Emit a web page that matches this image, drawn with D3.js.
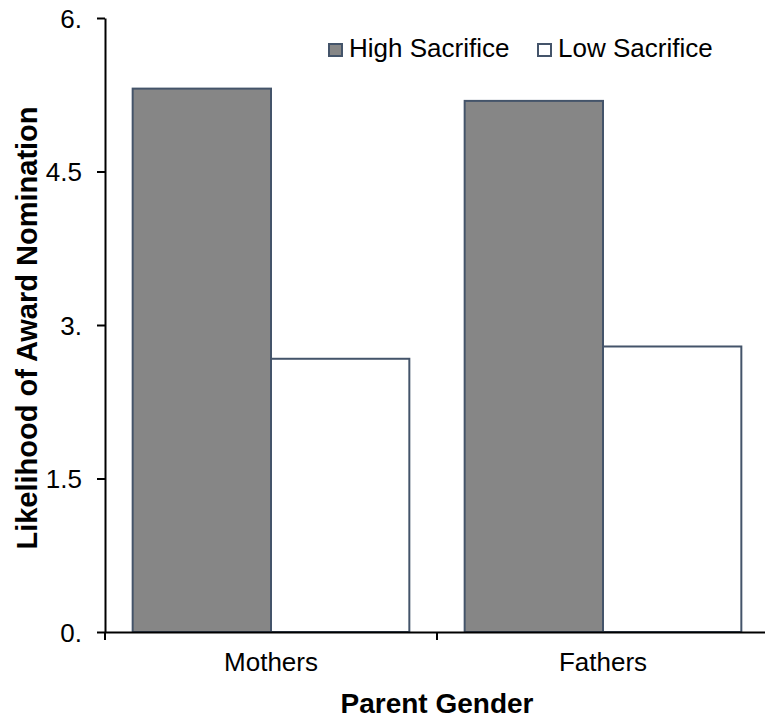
<!DOCTYPE html>
<html><head><meta charset="utf-8">
<script src="https://cdn.jsdelivr.net/npm/d3@7"></script>
<style>body{margin:0;background:#fff}svg{display:block;font-family:"Liberation Sans",Arial,sans-serif}</style>
</head><body><svg id="c" width="765" height="719"></svg>
<script>
const categories = ["Mothers", "Fathers"];
const seriesNames = ["High Sacrifice", "Low Sacrifice"];
const highSacrifice = [5.31, 5.19];
const lowSacrifice = [2.67, 2.79];
const yTicks = [0, 1.5, 3, 4.5, 6];
const yTickLabels = ["0.", "1.5", "3.", "4.5", "6."];
const colors = ["#868686", "#ffffff"];

const FONT = "Liberation Sans, Arial, sans-serif";
const svg = d3.select("#c");
const L = 105, R = 769, T = 18, B = 632;
const y = d3.scaleLinear().domain([0, 6]).range([B, T]);
const x = d3.scaleBand().domain(categories).range([L, R]).paddingInner(0).paddingOuter(0);
const xs = d3.scaleBand().domain(seriesNames).range([0, x.bandwidth()]).paddingInner(0).paddingOuter(0.2);

const data = categories.map((c, i) => ({cat: c, vals: [highSacrifice[i], lowSacrifice[i]]}));
const g = svg.append("g");
data.forEach(d => {
  d.vals.forEach((v, j) => {
    g.append("rect")
      .attr("x", x(d.cat) + xs(seriesNames[j]))
      .attr("y", y(v))
      .attr("width", xs.bandwidth())
      .attr("height", y(0) - y(v))
      .attr("fill", colors[j])
      .attr("stroke", "#44546a")
      .attr("stroke-width", 2);
  });
});

// y axis
const ya = svg.append("g").attr("transform", `translate(${L},0)`)
  .call(d3.axisLeft(y).tickValues(yTicks).tickFormat((d, i) => yTickLabels[i]).tickSize(8).tickSizeOuter(0));
ya.attr("font-size", null).attr("font-family", null);
ya.select(".domain").attr("stroke", "#000").attr("stroke-width", 2);
ya.selectAll(".tick line").attr("stroke", "#000").attr("stroke-width", 2);
ya.selectAll(".tick text").style("font-size", "26px").attr("fill", "#000").attr("x", -23).attr("dy", "0.35em").style("font-family", FONT);

// x axis
const xa = svg.append("g").attr("transform", `translate(0,${B})`)
  .call(d3.axisBottom(x).tickSize(0).tickSizeOuter(0));
xa.attr("font-size", null).attr("font-family", null);
xa.select(".domain").attr("stroke", "#000").attr("stroke-width", 2);
xa.selectAll(".tick text").style("font-size", "26px").attr("fill", "#000").attr("y", 39).attr("dy", 0).style("font-family", FONT);
// category boundary ticks
const bounds = [L, x("Fathers")];
svg.selectAll("line.xb").data(bounds).enter().append("line")
  .attr("x1", d => d).attr("x2", d => d).attr("y1", B).attr("y2", B + 8)
  .attr("stroke", "#000").attr("stroke-width", 2);

// axis titles
svg.append("text").attr("x", x("Fathers")).attr("y", 713).attr("text-anchor", "middle")
  .style("font-size", "28px").attr("font-weight", "bold").text("Parent Gender");
svg.append("text").attr("transform", `translate(37,328) rotate(-90)`).attr("text-anchor", "middle")
  .style("font-size", "29px").attr("font-weight", "bold").text("Likelihood of Award Nomination");

// legend
const legendX = [329, 538];
seriesNames.forEach((s, j) => {
  svg.append("rect").attr("x", legendX[j]).attr("y", 44).attr("width", 13).attr("height", 12)
    .attr("fill", colors[j]).attr("stroke", "#44546a").attr("stroke-width", 2);
  svg.append("text").attr("x", legendX[j] + 20).attr("y", 57).style("font-size", "26px").text(s);
});
</script></body></html>
